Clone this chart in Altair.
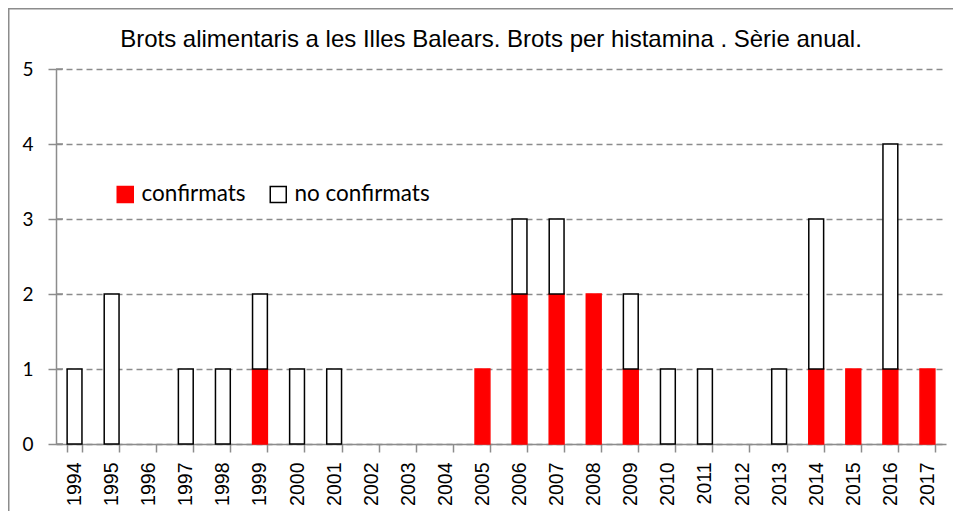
import altair as alt
import pandas as pd

years = [str(y) for y in range(1994, 2018)]
confirmats = [0, 0, 0, 0, 0, 1, 0, 0, 0, 0, 0, 1, 2, 2, 2, 1, 0, 0, 0, 0, 1, 1, 1, 1]
no_confirmats = [1, 2, 0, 1, 1, 1, 1, 1, 0, 0, 0, 0, 1, 1, 0, 1, 1, 1, 0, 1, 2, 0, 3, 0]
series = ["confirmats", "no confirmats"]
y_ticks = [0, 1, 2, 3, 4, 5]
title_text = "Brots alimentaris a les Illes Balears. Brots per histamina . Sèrie anual."

rows = []
for y, c, n in zip(years, confirmats, no_confirmats):
    rows.append({"any": y, "tipus": series[0], "valor": c, "ordre": 0})
    rows.append({"any": y, "tipus": series[1], "valor": n, "ordre": 1})
df = pd.DataFrame(rows)

W, H = 890, 375
PL, PT = 48, 61
GRAY = "#8c8c8c"

border = alt.Chart(pd.DataFrame({"a": [0]})).mark_rect(
    fill=None, stroke=GRAY, strokeWidth=1.5, clip=False
).encode(
    x=alt.value(-PL + 0.75), x2=alt.value(W + 40),
    y=alt.value(-PT + 0.75), y2=alt.value(H + 120)
)

yscale = alt.Scale(domain=[0, 5], nice=False)
yaxis = alt.Axis(title=None, values=y_ticks, format="d",
                 labelFontSize=19, labelFont="Lato", labelColor="black",
                 labelPadding=15, tickSize=8, tickColor=GRAY,
                 tickWidth=1.5, domainColor=GRAY, domainWidth=1.5,
                 grid=True, gridColor=GRAY, gridDash=[6, 4],
                 gridWidth=1.5)

# inner half of the y-axis ticks (Excel-style crossing ticks)
inner_ticks = alt.Chart(pd.DataFrame({"valor": y_ticks})).mark_rule(
    color=GRAY, strokeWidth=1.5
).encode(
    y=alt.Y("valor:Q", scale=yscale, axis=yaxis),
    x=alt.value(0), x2=alt.value(7),
)

leg = dict(title=None, orient="none", legendX=58, legendY=114,
           direction="horizontal", symbolType="square",
           symbolSize=256, labelFontSize=22.5, labelFont="Lato",
           labelColor="black", labelOffset=5, columnPadding=21,
           symbolStrokeWidth=1.5)

bars = alt.Chart(df).transform_filter("datum.valor > 0").mark_bar(strokeWidth=1.5).encode(
    x=alt.X("any:N", sort=years,
            scale=alt.Scale(domain=years, paddingInner=0.6, paddingOuter=0.3),
            axis=alt.Axis(title=None, labelAngle=270, labelAlign="right",
                          labelBaseline="middle", labelFontSize=19.5,
                          labelFont="Liberation Sans", labelColor="black",
                          labelPadding=10, tickBand="extent", tickSize=8,
                          tickColor=GRAY, domainColor=GRAY,
                          domainWidth=1.5, tickWidth=1.5, grid=False)),
    y=alt.Y("valor:Q", stack="zero", scale=yscale, axis=yaxis),
    fill=alt.Fill("tipus:N", sort=series,
                  scale=alt.Scale(domain=series, range=["#ff0000", "#ffffff"]),
                  legend=alt.Legend(**leg)),
    stroke=alt.Stroke("tipus:N", sort=series,
                      scale=alt.Scale(domain=series, range=["#ff0000", "#000000"]),
                      legend=alt.Legend(**leg)),
    order=alt.Order("ordre:Q"),
)

chart = alt.layer(border, bars, inner_ticks).resolve_scale(y="shared").properties(
    width=W, height=H,
    title=alt.Title(title_text, fontSize=24, font="Liberation Sans", fontWeight="normal",
                    color="black", anchor="middle", dx=-10, dy=44, offset=0),
    autosize=alt.AutoSizeParams(type="none"),
    padding={"left": PL, "top": PT, "right": 7, "bottom": 67},
).configure_view(stroke=None)

chart.save("out.html", embed_options={"renderer": "svg", "actions": False})
